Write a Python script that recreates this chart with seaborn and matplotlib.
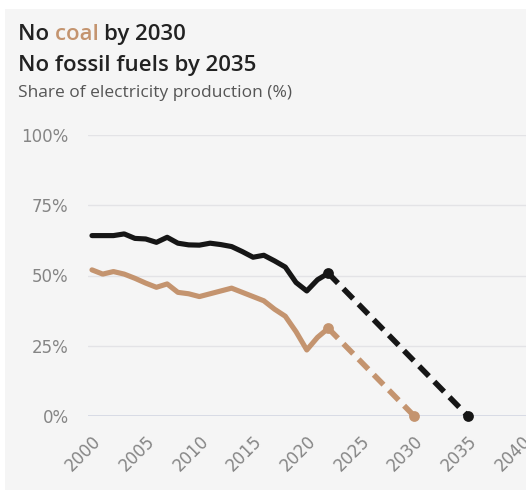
import numpy as np
import pandas as pd
import matplotlib
matplotlib.use("Agg")
import matplotlib.pyplot as plt
import seaborn as sns
from matplotlib.patches import Rectangle

# Share of electricity production (%), 2000-2022
years = list(range(2000, 2023))
fossil = [64.2, 64.2, 64.2, 64.8, 63.2, 63.0, 61.8, 63.6, 61.5, 60.9, 60.8, 61.5,
          61.0, 60.3, 58.5, 56.5, 57.2, 55.2, 53.0, 47.5, 44.5, 48.5, 50.8]
coal = [52.0, 50.5, 51.4, 50.5, 49.0, 47.3, 45.8, 47.0, 44.0, 43.5, 42.5, 43.5,
        44.5, 45.5, 44.0, 42.5, 41.0, 38.0, 35.5, 30.0, 23.5, 28.0, 31.2]

# Phase-out targets
coal_target_year = 2030
fossil_target_year = 2035

x_ticks = list(range(2000, 2041, 5))
y_ticks = [0, 25, 50, 75, 100]
y_tick_labels = ["0%", "25%", "50%", "75%", "100%"]

BLACK = "#161616"
TAN = "#c4946f"
BG = "#f5f5f5"
GRID = "#e3e3e6"
AXIS = "#d3d6e2"
TICK_TXT = "#858585"
TITLE = "#222222"

sns.set_theme(style="white")
plt.rcParams["font.family"] = ["Open Sans", "DejaVu Sans"]

fig = plt.figure(figsize=(5.26, 4.90), dpi=100)
fig.patch.set_facecolor("white")
fig.patches.append(Rectangle((5 / 526, 0), 1, (490 - 9) / 490,
                             transform=fig.transFigure, facecolor=BG,
                             edgecolor="none", zorder=-10))

ax = fig.add_axes([88 / 526, 74 / 490, 438 / 526, 281 / 490])
ax.set_facecolor("none")

hist = pd.DataFrame({"year": years, "fossil": fossil, "coal": coal})

sns.lineplot(data=hist, x="year", y="coal", color=TAN, lw=3.7, ax=ax,
             solid_capstyle="round", solid_joinstyle="round", clip_on=False, zorder=3)
sns.lineplot(data=hist, x="year", y="fossil", color=BLACK, lw=3.7, ax=ax,
             solid_capstyle="round", solid_joinstyle="round", clip_on=False, zorder=4)

# Dashed path from the latest value to the target year
coal_proj = pd.DataFrame({"year": [years[-1], coal_target_year], "v": [coal[-1], 0]})
fossil_proj = pd.DataFrame({"year": [years[-1], fossil_target_year], "v": [fossil[-1], 0]})
sns.lineplot(data=coal_proj, x="year", y="v", color=TAN, lw=4.0, ax=ax,
             clip_on=False, zorder=3).lines[-1].set_dashes([2.5, 1.4])
sns.lineplot(data=fossil_proj, x="year", y="v", color=BLACK, lw=4.0, ax=ax,
             clip_on=False, zorder=4).lines[-1].set_dashes([2.5, 1.4])

sns.scatterplot(data=coal_proj, x="year", y="v", color=TAN, s=60, ax=ax,
                linewidth=0, clip_on=False, zorder=5)
sns.scatterplot(data=fossil_proj, x="year", y="v", color=BLACK, s=60, ax=ax,
                linewidth=0, clip_on=False, zorder=6)

ax.set_xlim(1999.63, 2040.41)
ax.set_ylim(0, 100)
ax.set_xlabel("")
ax.set_ylabel("")

for y in y_ticks[1:]:
    ax.axhline(y, color=GRID, lw=1, zorder=0)
ax.axhline(0, color=AXIS, lw=1.2, zorder=1)

for s in ax.spines.values():
    s.set_visible(False)

ax.set_yticks(y_ticks)
ax.set_xticks(x_ticks)
ax.set_yticklabels(y_tick_labels, fontfamily="DejaVu Sans", fontsize=12,
                   color=TICK_TXT)
ax.set_xticklabels([str(t) for t in x_ticks], rotation=45, ha="right",
                   rotation_mode="anchor", fontfamily="DejaVu Sans",
                   fontsize=12, color=TICK_TXT)
ax.tick_params(axis="y", length=0, pad=14)
ax.tick_params(axis="x", length=6, width=1, color=AXIS, direction="out", pad=6)

# Title block: "coal" picked out in the coal colour
base_y = 1 - 40 / 490
parts = [("No ", TITLE), ("coal ", TAN), ("by 2030", TITLE)]
fig.canvas.draw()
r = fig.canvas.get_renderer()
x0 = 18 / 526
for txt, col in parts:
    t = fig.text(x0, base_y, txt, fontsize=16, fontweight="semibold", color=col,
                 va="baseline")
    x0 = t.get_window_extent(r).x1 / fig.bbox.width
fig.text(18 / 526, 1 - 71.5 / 490, "No fossil fuels by 2035", fontsize=16,
         fontweight="semibold", color=TITLE, va="baseline")
fig.text(18 / 526, 1 - 97 / 490, "Share of electricity production (%)",
         fontsize=12.5, color="#555555", va="baseline")

fig.savefig("out.png", dpi=100, facecolor=fig.get_facecolor())
